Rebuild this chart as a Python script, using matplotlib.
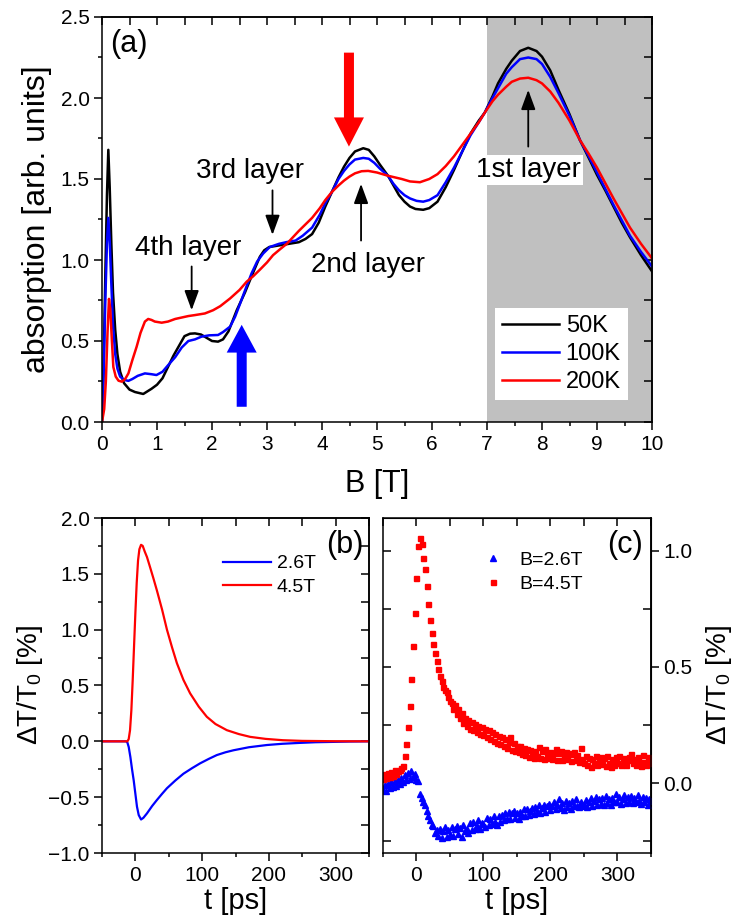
import numpy as np
import matplotlib
matplotlib.use("Agg")
import matplotlib.pyplot as plt
from matplotlib.ticker import MultipleLocator, FixedLocator, NullLocator

plt.rcParams['font.family'] = ['Liberation Sans', 'DejaVu Sans']
plt.rcParams['mathtext.default'] = 'regular'

# ---------------- panel (a) data ----------------
b50 = [0.00, 0.03, 0.06, 0.09, 0.115, 0.14, 0.17, 0.20, 0.24, 0.28, 0.33, 0.40, 0.50, 0.60, 0.75, 0.90,
       1.00, 1.10, 1.20, 1.30, 1.40, 1.50, 1.60, 1.69, 1.80, 1.90, 2.00, 2.11, 2.20, 2.30, 2.45, 2.60,
       2.72, 2.87, 2.95, 3.04, 3.22, 3.40, 3.58, 3.70, 3.82, 3.94, 4.06, 4.18, 4.30, 4.40, 4.50, 4.60,
       4.75, 4.85, 4.95, 5.05, 5.20, 5.30, 5.40, 5.50, 5.60, 5.70, 5.84, 5.95, 6.10, 6.25, 6.40, 6.55,
       6.70, 6.85, 6.96, 7.10, 7.20, 7.35, 7.45, 7.60, 7.75, 7.90, 8.00, 8.15, 8.30, 8.50, 8.69, 8.85,
       9.00, 9.15, 9.30, 9.45, 9.60, 9.80, 10.00]
a50 = [0.00, 0.35, 0.90, 1.40, 1.68, 1.45, 1.10, 0.80, 0.57, 0.42, 0.31, 0.24, 0.20, 0.185, 0.173, 0.205,
       0.23, 0.27, 0.34, 0.41, 0.47, 0.53, 0.545, 0.547, 0.54, 0.52, 0.50, 0.496, 0.51, 0.56, 0.69, 0.80,
       0.90, 1.02, 1.06, 1.08, 1.09, 1.10, 1.11, 1.13, 1.16, 1.23, 1.33, 1.42, 1.51, 1.576, 1.63, 1.67,
       1.69, 1.68, 1.64, 1.59, 1.52, 1.46, 1.40, 1.36, 1.33, 1.315, 1.31, 1.32, 1.36, 1.45, 1.556, 1.67,
       1.78, 1.86, 1.91, 2.01, 2.09, 2.18, 2.23, 2.29, 2.31, 2.29, 2.255, 2.17, 2.05, 1.90, 1.74, 1.63,
       1.525, 1.43, 1.33, 1.23, 1.14, 1.03, 0.93]

b100 = [0.00, 0.03, 0.06, 0.09, 0.115, 0.14, 0.17, 0.20, 0.24, 0.28, 0.33, 0.40, 0.48, 0.55, 0.65, 0.78,
        0.90, 0.99, 1.10, 1.20, 1.33, 1.45, 1.57, 1.69, 1.81, 1.95, 2.11, 2.20, 2.33, 2.42, 2.51, 2.62,
        2.72, 2.82, 2.93, 3.05, 3.22, 3.35, 3.52, 3.65, 3.82, 3.96, 4.06, 4.18, 4.30, 4.40, 4.50, 4.60,
        4.75, 4.85, 4.95, 5.05, 5.20, 5.30, 5.40, 5.50, 5.60, 5.72, 5.84, 5.95, 6.10, 6.25, 6.40, 6.55,
        6.70, 6.85, 6.96, 7.10, 7.20, 7.35, 7.45, 7.60, 7.75, 7.90, 8.00, 8.15, 8.30, 8.50, 8.69, 8.85,
        9.00, 9.15, 9.30, 9.45, 9.60, 9.80, 10.00]
a100 = [0.00, 0.30, 0.75, 1.10, 1.26, 1.12, 0.85, 0.60, 0.42, 0.33, 0.28, 0.26, 0.254, 0.265, 0.285, 0.30,
        0.295, 0.29, 0.31, 0.35, 0.40, 0.46, 0.50, 0.51, 0.527, 0.535, 0.537, 0.555, 0.589, 0.65, 0.73, 0.83,
        0.918, 0.99, 1.04, 1.08, 1.10, 1.11, 1.12, 1.15, 1.20, 1.28, 1.35, 1.42, 1.50, 1.55, 1.59, 1.62,
        1.63, 1.625, 1.60, 1.565, 1.52, 1.47, 1.43, 1.40, 1.38, 1.365, 1.36, 1.37, 1.40, 1.48, 1.57, 1.67,
        1.77, 1.85, 1.91, 2.00, 2.06, 2.15, 2.19, 2.24, 2.25, 2.24, 2.21, 2.13, 2.03, 1.89, 1.74, 1.64,
        1.54, 1.44, 1.34, 1.245, 1.15, 1.05, 0.96]

b200 = [0.00, 0.04, 0.07, 0.10, 0.127, 0.15, 0.18, 0.206, 0.25, 0.30, 0.36, 0.42, 0.48, 0.55, 0.63, 0.70,
        0.78, 0.84, 0.90, 0.96, 1.085, 1.20, 1.33, 1.45, 1.57, 1.69, 1.87, 2.02, 2.15, 2.33, 2.50, 2.63,
        2.75, 2.87, 3.00, 3.11, 3.25, 3.36, 3.47, 3.58, 3.70, 3.82, 3.96, 4.06, 4.18, 4.30, 4.40, 4.50,
        4.60, 4.72, 4.84, 5.00, 5.20, 5.45, 5.60, 5.78, 5.95, 6.10, 6.25, 6.40, 6.55, 6.70, 6.85, 6.96,
        7.10, 7.20, 7.35, 7.45, 7.60, 7.75, 7.90, 8.00, 8.15, 8.30, 8.50, 8.69, 8.85, 9.00, 9.15, 9.30,
        9.45, 9.60, 9.80, 10.00]
a200 = [0.00, 0.08, 0.25, 0.55, 0.76, 0.70, 0.50, 0.34, 0.28, 0.255, 0.249, 0.265, 0.30, 0.38, 0.465, 0.55,
        0.62, 0.636, 0.63, 0.62, 0.613, 0.62, 0.636, 0.645, 0.654, 0.66, 0.67, 0.69, 0.715, 0.763, 0.815, 0.866,
        0.90, 0.94, 0.985, 1.03, 1.07, 1.10, 1.14, 1.18, 1.22, 1.26, 1.32, 1.37, 1.42, 1.46, 1.49, 1.515,
        1.535, 1.548, 1.55, 1.54, 1.52, 1.50, 1.485, 1.48, 1.50, 1.53, 1.58, 1.64, 1.71, 1.78, 1.85, 1.91,
        1.98, 2.02, 2.07, 2.10, 2.12, 2.125, 2.11, 2.09, 2.04, 1.97, 1.86, 1.74, 1.655, 1.57, 1.475, 1.38,
        1.29, 1.20, 1.10, 1.01]

# ---------------- panel (b) data ----------------
t_r = [-50, -20, -12, -10, -8, -6, -4, -2, 0, 2, 4, 6, 8.5, 11, 14, 17.4, 22, 27, 32.3, 40, 47.3, 55,
       62.2, 72, 82, 95, 107, 120, 137, 155, 172, 195, 221, 250, 300, 350]
y_r = [0, 0, 0.0, 0.02, 0.10, 0.28, 0.55, 0.85, 1.15, 1.42, 1.62, 1.72, 1.76, 1.75, 1.70, 1.65, 1.56, 1.46,
       1.35, 1.18, 1.0, 0.84, 0.70, 0.55, 0.43, 0.31, 0.22, 0.155, 0.10, 0.065, 0.04, 0.022, 0.01, 0.004,
       0.001, 0.0]
t_b = [-50, -14, -12, -10, -7.5, -5, -2.5, 0, 2.4, 5, 8.5, 12, 17.4, 25, 32.3, 40, 47.3, 60, 72, 85, 97,
       110, 122, 135, 147, 170, 197, 220, 246, 270, 296, 320, 350]
y_b = [0, 0, -0.01, -0.05, -0.14, -0.25, -0.35, -0.47, -0.585, -0.66, -0.70, -0.685, -0.645, -0.58, -0.525,
       -0.47, -0.42, -0.35, -0.29, -0.24, -0.197, -0.157, -0.123, -0.098, -0.08, -0.053, -0.033, -0.022,
       -0.014, -0.008, -0.005, -0.002, 0]

# ---------------- panel (c) data ----------------
t_c = np.arange(-50, 350.1, 2.5)
y_c45 = [0.020, 0.038, 0.022, 0.046, 0.028, 0.050, 0.032, 0.056, 0.040, 0.052,
         0.058, 0.066, 0.075, 0.115, 0.170, 0.240, 0.330, 0.450, 0.590, 0.730,
         0.880, 1.020, 1.055, 1.030, 0.970, 0.920, 0.846, 0.770, 0.700, 0.645,
         0.600, 0.560, 0.525, 0.490, 0.460, 0.440, 0.415, 0.400, 0.390, 0.370,
         0.352, 0.345, 0.318, 0.335, 0.298, 0.318, 0.280, 0.300, 0.258, 0.282,
         0.245, 0.270, 0.232, 0.262, 0.228, 0.255, 0.220, 0.248, 0.212, 0.240,
         0.208, 0.235, 0.198, 0.228, 0.188, 0.218, 0.182, 0.212, 0.172, 0.202,
         0.168, 0.198, 0.160, 0.190, 0.152, 0.178, 0.198, 0.142, 0.172, 0.138,
         0.162, 0.132, 0.158, 0.125, 0.152, 0.120, 0.148, 0.112, 0.142, 0.122,
         0.108, 0.140, 0.115, 0.155, 0.110, 0.138, 0.102, 0.148, 0.120, 0.108,
         0.135, 0.105, 0.130, 0.145, 0.100, 0.128, 0.138, 0.098, 0.122, 0.132,
         0.102, 0.130, 0.094, 0.124, 0.136, 0.098, 0.120, 0.090, 0.150, 0.102,
         0.088, 0.118, 0.080, 0.110, 0.068, 0.106, 0.085, 0.118, 0.078, 0.104,
         0.114, 0.082, 0.108, 0.075, 0.116, 0.088, 0.070, 0.106, 0.080, 0.112,
         0.085, 0.116, 0.078, 0.104, 0.110, 0.080, 0.100, 0.114, 0.124, 0.086,
         0.106, 0.078, 0.114, 0.090, 0.072, 0.122, 0.092, 0.080, 0.112, 0.086,
         0.104]
y_c26 = [-0.028, -0.008, -0.034, -0.002, -0.022, 0.004, -0.018, 0.008, -0.010, 0.014,
         -0.002, 0.022, 0.006, 0.034, 0.012, 0.044, 0.020, 0.054, 0.026, 0.038,
         0.015, 0.010, -0.045, -0.062, -0.080, -0.095, -0.118, -0.140, -0.160, -0.178,
         -0.185, -0.215, -0.200, -0.228, -0.195, -0.235, -0.205, -0.188, -0.230, -0.200,
         -0.222, -0.190, -0.225, -0.198, -0.182, -0.218, -0.192, -0.230, -0.180, -0.205,
         -0.195, -0.215, -0.172, -0.200, -0.165, -0.198, -0.182, -0.160, -0.195, -0.170,
         -0.175, -0.188, -0.150, -0.180, -0.152, -0.175, -0.140, -0.168, -0.180, -0.142,
         -0.165, -0.138, -0.160, -0.128, -0.155, -0.125, -0.152, -0.130, -0.118, -0.148,
         -0.128, -0.152, -0.122, -0.142, -0.112, -0.140, -0.110, -0.135, -0.120, -0.105,
         -0.132, -0.102, -0.124, -0.095, -0.130, -0.108, -0.092, -0.122, -0.100, -0.088,
         -0.116, -0.096, -0.080, -0.112, -0.092, -0.070, -0.106, -0.086, -0.114, -0.078,
         -0.102, -0.084, -0.110, -0.075, -0.098, -0.068, -0.096, -0.104, -0.080, -0.098,
         -0.094, -0.072, -0.102, -0.080, -0.064, -0.096, -0.076, -0.060, -0.092, -0.070,
         -0.090, -0.064, -0.094, -0.056, -0.084, -0.068, -0.092, -0.062, -0.082, -0.046,
         -0.080, -0.058, -0.090, -0.066, -0.052, -0.084, -0.060, -0.080, -0.055, -0.086,
         -0.064, -0.082, -0.050, -0.076, -0.090, -0.058, -0.080, -0.064, -0.094, -0.066,
         -0.078]

W, H = 742, 921
fig = plt.figure(figsize=(W / 100, H / 100), dpi=100)


def rect(l, r, t, b):
    return [l / W, 1 - b / H, (r - l) / W, (b - t) / H]


MAJ, MIN, TW = 5.5, 3.2, 1.1


def style_axes(ax, xmaj, xmin, ymaj, ymin, fs):
    for s in ax.spines.values():
        s.set_linewidth(1.1)
    ax.xaxis.set_major_locator(MultipleLocator(xmaj))
    ax.xaxis.set_minor_locator(MultipleLocator(xmin))
    ax.yaxis.set_major_locator(MultipleLocator(ymaj))
    ax.yaxis.set_minor_locator(MultipleLocator(ymin))
    ax.tick_params(which='both', direction='out', width=TW, labelsize=fs, top=False, right=False)
    ax.tick_params(which='major', length=MAJ)
    ax.tick_params(which='minor', length=MIN)
    st = ax.secondary_xaxis('top')
    st.xaxis.set_major_locator(MultipleLocator(xmin))
    st.xaxis.set_minor_locator(NullLocator())
    st.tick_params(direction='in', length=MAJ, width=TW, labeltop=False)
    st.spines['top'].set_linewidth(1.1)
    return st


# ---------------- (a) ----------------
axa = fig.add_axes(rect(102, 652, 17, 422))
axa.axvspan(7, 10, color='#C0C0C0', zorder=0, lw=0)
axa.plot(b50, a50, color='black', lw=1.8, label='50K')
axa.plot(b100, a100, color='#0000FF', lw=1.8, label='100K')
axa.plot(b200, a200, color='#FF0000', lw=1.8, label='200K')
axa.set_xlim(0, 10)
axa.set_ylim(0, 2.5)
style_axes(axa, 1, 0.5, 0.5, 0.25, 15)
sr = axa.secondary_yaxis('right')
sr.yaxis.set_major_locator(MultipleLocator(0.25))
sr.tick_params(direction='in', length=MAJ, width=TW, labelright=False)
sr.spines['right'].set_linewidth(1.1)
axa.set_xlabel('B [T]', fontsize=22, labelpad=11)
axa.set_ylabel('absorption [arb. units]', fontsize=23, labelpad=6)
axa.text(0.015, 0.914, '(a)', transform=axa.transAxes, fontsize=22, va='baseline', ha='left')

leg = axa.legend(loc='lower right', bbox_to_anchor=(0.956, 0.054), fontsize=17, frameon=True,
                 fancybox=False, framealpha=1, edgecolor='white', facecolor='white',
                 handlelength=2.4, handletextpad=0.3, labelspacing=0.25, borderpad=0.3, borderaxespad=0)
leg.get_frame().set_linewidth(0)

# big arrows
axa.annotate('', xy=(4.49, 1.70), xytext=(4.49, 2.28),
             arrowprops=dict(arrowstyle='simple,head_width=1.08,head_length=1.05,tail_width=0.36',
                             color='#FF0000', mutation_scale=20, shrinkA=0, shrinkB=0, lw=0))
axa.annotate('', xy=(2.54, 0.60), xytext=(2.54, 0.094),
             arrowprops=dict(arrowstyle='simple,head_width=1.08,head_length=1.0,tail_width=0.36',
                             color='#0000FF', mutation_scale=20, shrinkA=0, shrinkB=0, lw=0))

# small black arrows
small = dict(arrowstyle='-|>,head_width=0.22,head_length=0.6', color='black', lw=1.3,
             mutation_scale=20, shrinkA=0, shrinkB=0)
axa.annotate('', xy=(3.10, 1.155), xytext=(3.10, 1.43), arrowprops=small)
axa.annotate('', xy=(1.63, 0.69), xytext=(1.63, 0.96), arrowprops=small)
axa.annotate('', xy=(4.71, 1.47), xytext=(4.71, 1.12), arrowprops=small)
axa.annotate('', xy=(7.75, 2.05), xytext=(7.75, 1.70), arrowprops=small)

axa.text(2.69, 1.506, '3rd layer', fontsize=20, ha='center', va='baseline')
axa.text(1.565, 1.03, '4th layer', fontsize=20, ha='center', va='baseline')
axa.text(4.84, 0.928, '2nd layer', fontsize=20, ha='center', va='baseline')
axa.text(7.75, 1.514, '1st layer', fontsize=20, ha='center', va='baseline',
         bbox=dict(facecolor='white', edgecolor='none', pad=1.5))

# ---------------- (b) ----------------
axb = fig.add_axes(rect(102, 369, 518, 853))
axb.plot(t_b, y_b, color='#0000FF', lw=1.6, label='2.6T')
axb.plot(t_r, y_r, color='#FF0000', lw=1.6, label='4.5T')
axb.set_xlim(-50, 350)
axb.set_ylim(-1.0, 2.0)
style_axes(axb, 100, 50, 0.5, 0.25, 15)
sr = axb.secondary_yaxis('right')
sr.yaxis.set_major_locator(MultipleLocator(0.25))
sr.tick_params(direction='in', length=MAJ, width=TW, labelright=False)
sr.spines['right'].set_linewidth(1.1)
axb.set_xlabel('t [ps]', fontsize=21, labelpad=2)
axb.set_ylabel('ΔT/T$_0$ [%]', fontsize=20, labelpad=2)
axb.text(0.978, 0.896, '(b)', transform=axb.transAxes, fontsize=22, va='baseline', ha='right')
axb.legend(loc='upper left', bbox_to_anchor=(0.455, 0.89), fontsize=14, frameon=False,
           handlelength=2.45, handletextpad=0.3, labelspacing=0.3, borderpad=0, borderaxespad=0)

# ---------------- (c) ----------------
axc = fig.add_axes(rect(383, 651, 518, 853))
axc.plot(t_c, y_c26, linestyle='none', marker='^', ms=4.2, color='#0000FF', mec='#0000FF', label='B=2.6T')
axc.plot(t_c, y_c45, linestyle='none', marker='s', ms=3.6, color='#FF0000', mec='#FF0000', label='B=4.5T')
axc.set_xlim(-50, 350)
axc.set_ylim(-0.3, 1.14)
for s in axc.spines.values():
    s.set_linewidth(1.1)
axc.xaxis.set_major_locator(MultipleLocator(100))
axc.xaxis.set_minor_locator(MultipleLocator(50))
axc.tick_params(axis='x', which='both', direction='out', width=TW, labelsize=15, top=False)
axc.tick_params(axis='x', which='major', length=MAJ)
axc.tick_params(axis='x', which='minor', length=MIN)
st = axc.secondary_xaxis('top')
st.xaxis.set_major_locator(MultipleLocator(50))
st.tick_params(direction='in', length=MAJ, width=TW, labeltop=False)
axc.yaxis.set_major_locator(FixedLocator([-0.25, 0.25, 0.5, 0.75, 1.0]))
axc.yaxis.set_minor_locator(NullLocator())
axc.tick_params(axis='y', direction='in', length=MAJ, width=TW, labelleft=False, right=False)
sr = axc.secondary_yaxis('right')
sr.yaxis.set_major_locator(FixedLocator([0.0, 0.5, 1.0]))
sr.tick_params(direction='out', length=MAJ, width=TW, labelsize=15)
sr.spines['right'].set_linewidth(1.1)
sr.set_ylabel('ΔT/T$_0$ [%]', fontsize=20, labelpad=8)
sr2 = axc.secondary_yaxis('right')
sr2.yaxis.set_major_locator(FixedLocator([-0.25, 0.25, 0.75]))
sr2.tick_params(direction='in', length=MAJ, width=TW, labelright=False)
axc.set_xlabel('t [ps]', fontsize=21, labelpad=2)
axc.text(0.970, 0.896, '(c)', transform=axc.transAxes, fontsize=22, va='baseline', ha='right')
axc.legend(loc='upper left', bbox_to_anchor=(0.355, 0.90), fontsize=14, frameon=False, numpoints=1,
           handlelength=1.5, handletextpad=0.6, labelspacing=0.3, borderpad=0, borderaxespad=0,
           markerscale=1.0)

fig.savefig('out.png', dpi=100)
